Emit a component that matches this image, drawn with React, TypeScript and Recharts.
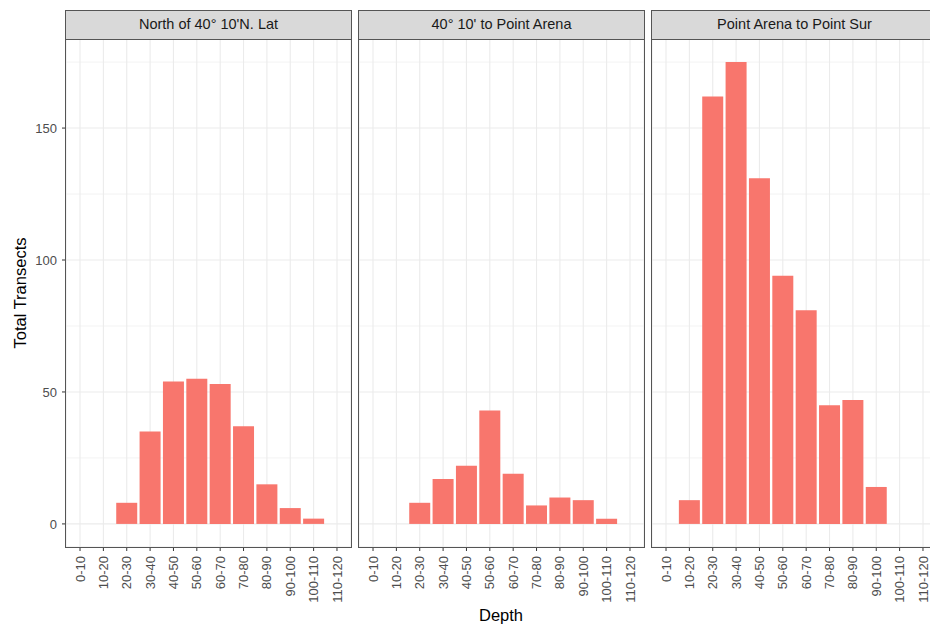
import React from 'react';
import { BarChart, Bar, XAxis, YAxis, CartesianGrid } from 'recharts';

const depthBins = ['0-10', '10-20', '20-30', '30-40', '40-50', '50-60', '60-70', '70-80', '80-90', '90-100', '100-110', '110-120'];
const northCounts = [null, null, 8, 35, 54, 55, 53, 37, 15, 6, 2, null];
const arenaCounts = [null, null, 8, 17, 22, 43, 19, 7, 10, 9, 2, null];
const surCounts = [null, 9, 162, 175, 131, 94, 81, 45, 47, 14, null, null];
const panelTitles = ["North of 40° 10'N. Lat", "40° 10' to Point Arena", 'Point Arena to Point Sur'];
const yTicks = [0, 50, 100, 150];
const yMinorTicks = [25, 75, 125, 175];
const yDomain = [-8.75, 183.75];

const FONT = '"Liberation Sans", Arial, sans-serif';
const PANEL_LEFTS = [66, 359, 652];
const PANEL_W = 285;
const PLOT_TOP = 39;
const PLOT_BOTTOM = 547;
const STRIP_TOP = 11;
const H = 628;
const UNIT = PANEL_W / 12.2;
const PAD = UNIT * 0.1;

const seriesList = [northCounts, arenaCounts, surCounts];

const XTick = (props: any) => {
  const { x, y, payload } = props;
  return (
    <text
      x={x}
      y={y}
      transform={`rotate(-90, ${x}, ${y})`}
      textAnchor="end"
      dy="0.35em"
      fill="#4d4d4d"
      fontSize={13}
      fontFamily={FONT}
    >
      {payload.value}
    </text>
  );
};

function Panel({ idx }: { idx: number }) {
  const data = depthBins.map((bin, i) => ({ bin, value: seriesList[idx][i] }));
  const first = idx === 0;
  const chartLeft = first ? 0 : PANEL_LEFTS[idx];
  const width = first ? PANEL_LEFTS[0] + PANEL_W : PANEL_W;
  return (
    <div style={{ position: 'absolute', left: chartLeft, top: 0 }}>
      <BarChart
        width={width}
        height={H}
        data={data}
        margin={{ top: PLOT_TOP, right: 0, bottom: 0, left: 0 }}
        barCategoryGap="5%"
      >
        <CartesianGrid
          horizontalValues={yMinorTicks}
          vertical={false}
          stroke="#ebebeb"
          strokeWidth={0.6}
        />
        <CartesianGrid stroke="#ebebeb" strokeWidth={1.1} />
        <XAxis
          dataKey="bin"
          type="category"
          height={H - PLOT_BOTTOM}
          padding={{ left: PAD, right: PAD }}
          interval={0}
          axisLine={false}
          tickLine={{ stroke: '#333333' }}
          tickSize={4}
          tickMargin={5}
          tick={<XTick />}
        />
        <YAxis
          hide={!first}
          width={PANEL_LEFTS[0]}
          type="number"
          domain={yDomain}
          ticks={yTicks}
          allowDataOverflow
          axisLine={false}
          tickLine={{ stroke: '#333333' }}
          tickSize={4}
          tickMargin={5}
          tick={{ fill: '#4d4d4d', fontSize: 13, fontFamily: FONT }}
        />
        <Bar dataKey="value" fill="#F8766D" isAnimationActive={false} />
      </BarChart>
    </div>
  );
}

export default function App() {
  return (
    <div
      style={{
        position: 'absolute',
        left: 0,
        top: 0,
        width: 930,
        height: H,
        overflow: 'hidden',
        background: '#ffffff',
        fontFamily: FONT,
      }}
    >
      {[0, 1, 2].map((i) => (
        <Panel key={i} idx={i} />
      ))}
      {PANEL_LEFTS.map((left, i) => (
        <React.Fragment key={'f' + i}>
          <div
            style={{
              position: 'absolute',
              left: left - 0.7,
              top: PLOT_TOP - 0.7,
              width: PANEL_W + 1.4,
              height: PLOT_BOTTOM - PLOT_TOP + 1.4,
              border: '1.4px solid #555555',
              boxSizing: 'border-box',
              pointerEvents: 'none',
            }}
          />
          <div
            style={{
              position: 'absolute',
              left: left - 0.7,
              top: STRIP_TOP - 0.7,
              width: PANEL_W + 1.4,
              height: PLOT_TOP - STRIP_TOP + 1.4,
              border: '1.4px solid #555555',
              boxSizing: 'border-box',
              background: '#d9d9d9',
              color: '#1a1a1a',
              fontSize: 14.5,
              textAlign: 'center',
              lineHeight: `${PLOT_TOP - STRIP_TOP - 1.4}px`,
              whiteSpace: 'nowrap',
            }}
          >
            {panelTitles[i]}
          </div>
        </React.Fragment>
      ))}
      <svg
        width={930}
        height={H}
        style={{ position: 'absolute', left: 0, top: 0, pointerEvents: 'none' }}
      >
        <text x={501} y={621} textAnchor="middle" fontSize={16.5} fontFamily={FONT} fill="#000">
          Depth
        </text>
        <text
          x={26}
          y={293}
          transform="rotate(-90, 26, 293)"
          textAnchor="middle"
          fontSize={16.5}
          fontFamily={FONT}
          fill="#000"
        >
          Total Transects
        </text>
      </svg>
    </div>
  );
}
